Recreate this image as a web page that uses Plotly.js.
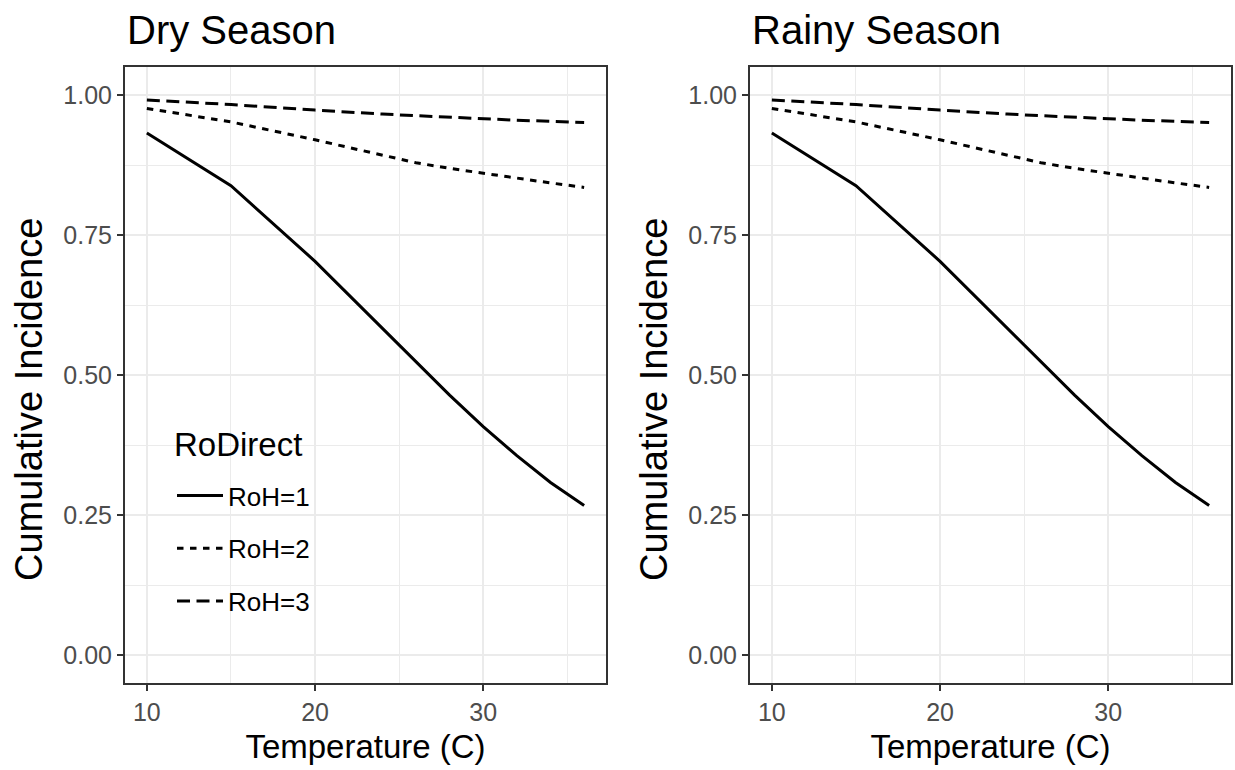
<!DOCTYPE html>
<html>
<head>
<meta charset="utf-8">
<script src="https://cdn.plot.ly/plotly-3.0.1.min.js"></script>
<style>html,body{margin:0;padding:0;background:#fff;}#chart{width:1235px;height:770px;}</style>
</head>
<body>
<div id="chart"></div>
<script>
// ---- data ----
const temperature = [10, 15, 20, 22, 24, 26, 28, 30, 32, 34, 36];
const seriesNames = ["RoH=1", "RoH=2", "RoH=3"];
const legendTitle = "RoDirect";
const dryRoH1 = [0.932, 0.838, 0.703, 0.643, 0.583, 0.523, 0.464, 0.408, 0.356, 0.308, 0.267];
const dryRoH2 = [0.976, 0.952, 0.920, 0.906, 0.892, 0.879, 0.869, 0.860, 0.851, 0.843, 0.835];
const dryRoH3 = [0.991, 0.983, 0.973, 0.969, 0.966, 0.963, 0.960, 0.957, 0.955, 0.953, 0.951];
const rainyRoH1 = [0.932, 0.838, 0.703, 0.643, 0.583, 0.523, 0.464, 0.408, 0.356, 0.308, 0.267];
const rainyRoH2 = [0.976, 0.952, 0.920, 0.906, 0.892, 0.879, 0.869, 0.860, 0.851, 0.843, 0.835];
const rainyRoH3 = [0.991, 0.983, 0.973, 0.969, 0.966, 0.963, 0.960, 0.957, 0.955, 0.953, 0.951];
const panelTitles = ["Dry Season", "Rainy Season"];
const xTitle = "Temperature (C)";
const yTitle = "Cumulative Incidence";
const xTicks = [10, 20, 30];
const yTicks = [0, 0.25, 0.5, 0.75, 1];
const yTickLabels = ["0.00", "0.25", "0.50", "0.75", "1.00"];

const FONT = "Liberation Sans, Arial, Helvetica, sans-serif";
const dashes = ["solid", "6.5px,6.5px", "13px,6.5px"];

const traces = [];
const panels = [[dryRoH1, dryRoH2, dryRoH3], [rainyRoH1, rainyRoH2, rainyRoH3]];
panels.forEach((vals, p) => {
  vals.forEach((v, i) => {
    traces.push({
      x: temperature, y: v, type: "scatter", mode: "lines",
      name: seriesNames[i], legendgroup: seriesNames[i],
      showlegend: p === 0,
      xaxis: p === 0 ? "x" : "x2", yaxis: p === 0 ? "y" : "y2",
      line: {color: "#000000", width: 3, dash: dashes[i]},
      hoverinfo: "skip"
    });
  });
});

function xAxis(domain, anchor) {
  return {
    domain: domain, anchor: anchor, range: [8.7, 37.3],
    tickvals: xTicks, ticktext: xTicks.map(String),
    ticks: "outside", ticklen: 6, tickwidth: 1.5, tickcolor: "#333333",
    tickfont: {family: FONT, size: 25, color: "#4D4D4D"},
    showgrid: true, gridcolor: "#EBEBEB", gridwidth: 2,
    minor: {showgrid: true, gridcolor: "#EBEBEB", gridwidth: 1, tickvals: [15, 25, 35]},
    showline: true, mirror: true, linecolor: "#333333", linewidth: 2,
    zeroline: false,
    title: {text: xTitle, font: {family: FONT, size: 33, color: "#000000"}, standoff: 10}
  };
}
function yAxis(domain, anchor) {
  return {
    domain: domain, anchor: anchor, range: [-0.05, 1.05],
    tickvals: yTicks, ticktext: yTickLabels,
    ticks: "outside", ticklen: 6, tickwidth: 1.5, tickcolor: "#333333",
    tickfont: {family: FONT, size: 25, color: "#4D4D4D"},
    showgrid: true, gridcolor: "#EBEBEB", gridwidth: 2,
    minor: {showgrid: true, gridcolor: "#EBEBEB", gridwidth: 1, tickvals: [0.125, 0.375, 0.625, 0.875]},
    showline: true, mirror: true, linecolor: "#333333", linewidth: 2,
    zeroline: false
  };
}

const W = 1235, H = 770;
const mL = 125, mR = 4, mT = 67, mB = 87;
const pw = W - mL - mR, ph = H - mT - mB;
const px = v => (v - mL) / pw;      // page x -> paper x
const py = v => (H - mB - v) / ph;  // page y -> paper y
const x1dom = [0, 481 / pw];
const x2dom = [(750 - mL) / pw, 1];

const annotations = [];
panelTitles.forEach((t, i) => {
  annotations.push({
    text: t, showarrow: false, xref: "paper", yref: "paper",
    x: i === 0 ? x1dom[0] : x2dom[0], y: py(30),
    xanchor: "left", yanchor: "middle",
    font: {family: FONT, size: 40, color: "#000000"}
  });
  annotations.push({
    text: yTitle, showarrow: false, xref: "paper", yref: "paper",
    textangle: -90,
    x: px(i === 0 ? 29 : 654), y: py(400),
    xanchor: "center", yanchor: "middle",
    font: {family: FONT, size: 38, color: "#000000"}
  });
});
annotations.push({
  text: legendTitle, showarrow: false, xref: "paper", yref: "paper",
  x: px(172), y: py(444), xanchor: "left", yanchor: "middle",
  font: {family: FONT, size: 33, color: "#000000"}
});

const layout = {
  width: W, height: H,
  margin: {l: mL, r: mR, t: mT, b: mB, pad: 0},
  paper_bgcolor: "#ffffff", plot_bgcolor: "#ffffff",
  font: {family: FONT},
  xaxis: xAxis(x1dom, "y"),
  yaxis: yAxis([0, 1], "x"),
  xaxis2: xAxis(x2dom, "y2"),
  yaxis2: yAxis([0, 1], "x2"),
  showlegend: true,
  legend: {
    x: px(172), y: py(472),
    xanchor: "left", yanchor: "top",
    bgcolor: "rgba(0,0,0,0)", borderwidth: 0,
    font: {family: FONT, size: 26, color: "#000000"},
    tracegroupgap: 16,
    itemwidth: 46
  },
  shapes: [{
    type: "rect", xref: "paper", yref: "paper", layer: "between",
    x0: px(155), x1: px(335), y0: py(645), y1: py(413),
    fillcolor: "#ffffff", line: {width: 0}
  }],
  annotations: annotations
};

Plotly.newPlot("chart", traces, layout, {displayModeBar: false, staticPlot: true});
</script>
</body>
</html>
